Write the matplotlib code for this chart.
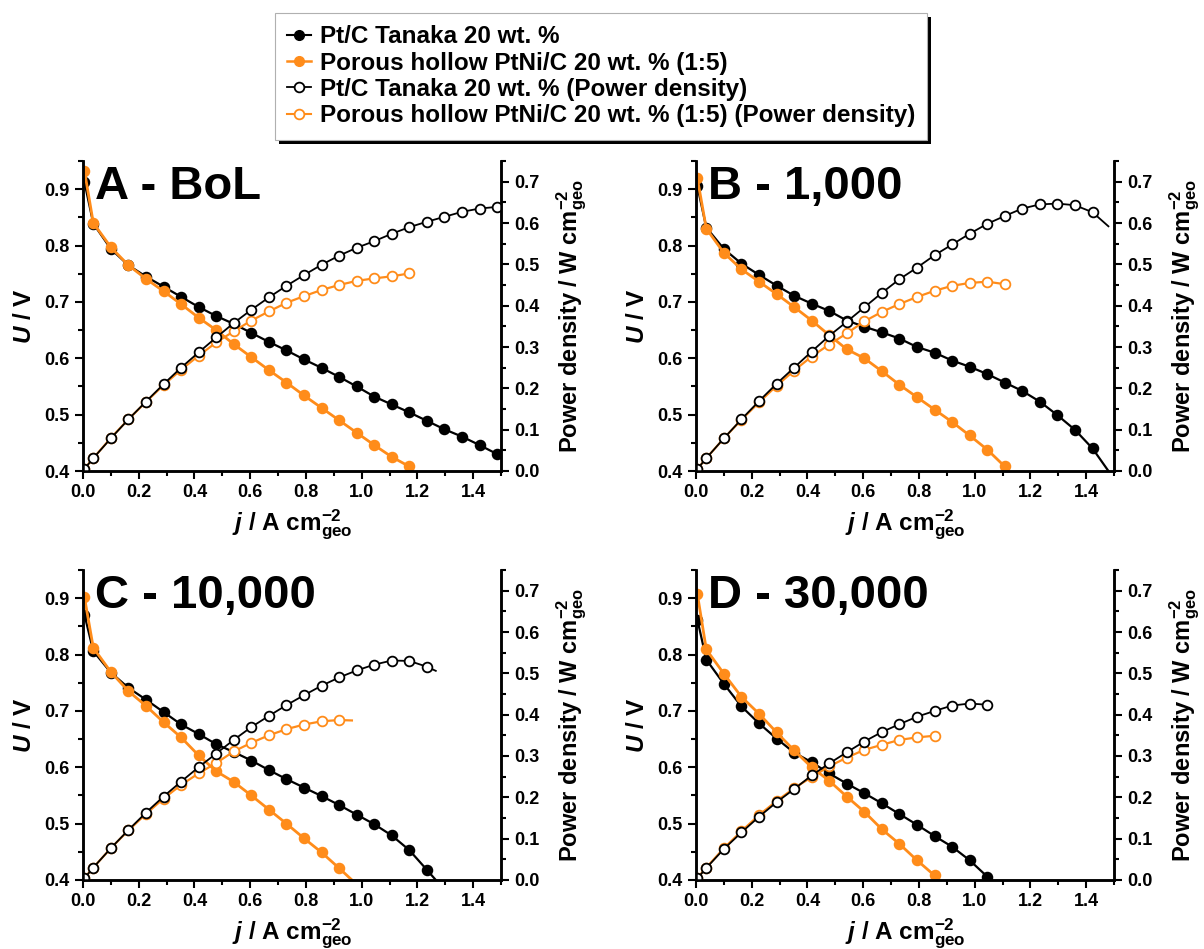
import matplotlib
matplotlib.use('Agg')
from matplotlib import pyplot as plt
from matplotlib.lines import Line2D
from matplotlib.patches import Rectangle
from matplotlib.ticker import MultipleLocator

plt.rcParams['font.family'] = ['Liberation Sans', 'DejaVu Sans']
plt.rcParams['font.weight'] = 'bold'
plt.rcParams['axes.labelweight'] = 'bold'
plt.rcParams['mathtext.fontset'] = 'custom'
plt.rcParams['mathtext.rm'] = 'Liberation Sans:bold'
plt.rcParams['mathtext.bf'] = 'Liberation Sans:bold'
plt.rcParams['mathtext.it'] = 'Liberation Sans:bold:italic'

ORANGE = '#FF8C1A'

### - Data

# current density of the measured points, A cm-2 (same grid for every curve)
j_grid = [0.005, 0.037, 0.100, 0.163, 0.226, 0.289, 0.352, 0.415, 0.478, 0.541,
          0.604, 0.667, 0.730, 0.793, 0.856, 0.919, 0.982, 1.045, 1.108, 1.171,
          1.234, 1.297, 1.360, 1.423, 1.486]

# A - BoL
A_pt_U = [0.913, 0.839, 0.794, 0.765, 0.745, 0.727, 0.709, 0.691, 0.675, 0.661,
          0.645, 0.629, 0.614, 0.598, 0.583, 0.567, 0.550, 0.532, 0.518, 0.504,
          0.489, 0.474, 0.461, 0.446, 0.430]
A_pt_P = [0.005, 0.031, 0.079, 0.125, 0.168, 0.210, 0.250, 0.287, 0.323, 0.358,
          0.390, 0.420, 0.448, 0.474, 0.499, 0.521, 0.540, 0.556, 0.574, 0.590,
          0.603, 0.615, 0.627, 0.635, 0.639]
A_ni_U = [0.933, 0.840, 0.797, 0.765, 0.741, 0.719, 0.696, 0.672, 0.650, 0.625,
          0.602, 0.579, 0.557, 0.534, 0.512, 0.490, 0.468, 0.446, 0.425, 0.408]
A_ni_P = [0.005, 0.031, 0.080, 0.125, 0.167, 0.208, 0.245, 0.279, 0.311, 0.338,
          0.364, 0.386, 0.407, 0.423, 0.438, 0.450, 0.460, 0.466, 0.471, 0.478]

# B - 1,000 cycles
B_pt_U = [0.905, 0.832, 0.794, 0.768, 0.748, 0.729, 0.711, 0.697, 0.684, 0.667,
          0.656, 0.646, 0.635, 0.620, 0.610, 0.596, 0.585, 0.572, 0.557, 0.542,
          0.523, 0.499, 0.473, 0.440]
B_pt_P = [0.005, 0.031, 0.079, 0.125, 0.169, 0.211, 0.250, 0.289, 0.327, 0.361,
          0.396, 0.431, 0.464, 0.492, 0.522, 0.548, 0.574, 0.598, 0.617, 0.635,
          0.645, 0.647, 0.643, 0.626]
B_pt_tail = (1.480, 0.400, 0.592)   # j, U, P where the line ends past the last marker
B_ni_U = [0.919, 0.830, 0.787, 0.758, 0.736, 0.714, 0.691, 0.667, 0.641, 0.616,
          0.600, 0.577, 0.553, 0.531, 0.509, 0.487, 0.463, 0.438, 0.408]
B_ni_P = [0.005, 0.031, 0.079, 0.124, 0.166, 0.206, 0.243, 0.277, 0.306, 0.333,
          0.362, 0.385, 0.404, 0.421, 0.436, 0.448, 0.455, 0.458, 0.452]

# C - 10,000 cycles
C_pt_U = [0.871, 0.806, 0.768, 0.741, 0.720, 0.698, 0.676, 0.659, 0.641, 0.627,
          0.612, 0.595, 0.579, 0.564, 0.549, 0.533, 0.516, 0.499, 0.479, 0.453,
          0.418]
C_pt_P = [0.004, 0.030, 0.077, 0.121, 0.163, 0.202, 0.238, 0.273, 0.306, 0.339,
          0.370, 0.397, 0.423, 0.447, 0.470, 0.490, 0.507, 0.521, 0.531, 0.530,
          0.516]
C_pt_tail = (1.266, 0.400, 0.506)
C_ni_U = [0.902, 0.812, 0.769, 0.735, 0.709, 0.680, 0.653, 0.621, 0.593, 0.574,
          0.550, 0.525, 0.500, 0.474, 0.449, 0.421]
C_ni_P = [0.005, 0.030, 0.077, 0.120, 0.160, 0.197, 0.230, 0.258, 0.283, 0.311,
          0.332, 0.350, 0.365, 0.376, 0.384, 0.387]
C_ni_tail = (0.965, 0.400, 0.386)

# D - 30,000 cycles
D_pt_U = [0.862, 0.791, 0.748, 0.708, 0.678, 0.651, 0.626, 0.609, 0.589, 0.571,
          0.554, 0.536, 0.517, 0.498, 0.478, 0.459, 0.435, 0.406]
D_pt_P = [0.004, 0.029, 0.075, 0.115, 0.153, 0.188, 0.220, 0.253, 0.282, 0.309,
          0.335, 0.358, 0.377, 0.395, 0.409, 0.422, 0.427, 0.424]
D_ni_U = [0.907, 0.809, 0.766, 0.725, 0.695, 0.662, 0.630, 0.600, 0.576, 0.548,
          0.521, 0.490, 0.464, 0.435, 0.408]
D_ni_P = [0.005, 0.030, 0.077, 0.118, 0.157, 0.191, 0.222, 0.249, 0.275, 0.296,
          0.315, 0.327, 0.339, 0.345, 0.349]

legend_labels = ['Pt/C Tanaka 20 wt. %',
                 'Porous hollow PtNi/C 20 wt. % (1:5)',
                 'Pt/C Tanaka 20 wt. % (Power density)',
                 'Porous hollow PtNi/C 20 wt. % (1:5) (Power density)']

### - Helper Functions

def plot_series(ax, yvals, colour, filled, tail=None, lw=1.6):
    """Line through the points, markers only on the measured points (tail = extra line end)."""
    n = len(yvals)
    xs = list(j_grid[:n])
    ys = list(yvals)
    if tail is not None:
        xs.append(tail[0])
        ys.append(tail[1])
    ax.plot(xs, ys, '-', color=colour, lw=lw, marker='o', ms=7,
            mfc=colour if filled else 'white', mec=colour, mew=1.3,
            markevery=list(range(n)))


def style_axes(ax, ax2):
    for a in (ax, ax2):
        a.spines['top'].set_visible(False)
        for s in ('left', 'right', 'bottom'):
            a.spines[s].set_linewidth(1.8)
        a.tick_params(which='major', direction='out', length=6, width=1.5, labelsize=13)
        a.tick_params(which='minor', direction='out', length=3.5, width=1.5)
    ax.set_xlim(0, 1.5)
    ax.set_ylim(0.4, 0.95)
    ax2.set_ylim(0.0, 0.75)
    ax.set_xticks([0.0, 0.2, 0.4, 0.6, 0.8, 1.0, 1.2, 1.4])
    ax.xaxis.set_minor_locator(MultipleLocator(0.1))
    ax.set_yticks([0.4, 0.5, 0.6, 0.7, 0.8, 0.9])
    ax.yaxis.set_minor_locator(MultipleLocator(0.05))
    ax2.set_yticks([0.0, 0.1, 0.2, 0.3, 0.4, 0.5, 0.6, 0.7])
    ax2.yaxis.set_minor_locator(MultipleLocator(0.05))
    ax.xaxis.set_major_formatter(plt.FormatStrFormatter('%.1f'))
    ax.yaxis.set_major_formatter(plt.FormatStrFormatter('%.1f'))
    ax2.yaxis.set_major_formatter(plt.FormatStrFormatter('%.1f'))
    ax.set_xlabel(r'$\mathit{j}$ / A $\mathrm{cm}^{-2}_{\mathrm{geo}}$', fontsize=17.5, labelpad=5)
    ax.set_ylabel(r'$\mathit{U}$ / V', fontsize=17.5, labelpad=6)
    ax2.set_ylabel(r'Power density / W $\mathrm{cm}^{-2}_{\mathrm{geo}}$', fontsize=17, labelpad=11)


def draw_panel(rect, title, pt_U, pt_P, ni_U, ni_P, pt_tail=None, ni_tail=None):
    ax = fig.add_axes(rect)
    ax2 = ax.twinx()
    plot_series(ax, pt_U, 'black', True, None if pt_tail is None else (pt_tail[0], pt_tail[1]), lw=1.6)
    plot_series(ax, ni_U, ORANGE, True, None if ni_tail is None else (ni_tail[0], ni_tail[1]), lw=2.0)
    plot_series(ax2, ni_P, ORANGE, False, None if ni_tail is None else (ni_tail[0], ni_tail[2]), lw=1.6)
    plot_series(ax2, pt_P, 'black', False, None if pt_tail is None else (pt_tail[0], pt_tail[2]), lw=1.3)
    style_axes(ax, ax2)
    ax2.text(0.029, 0.877, title, transform=ax.transAxes, fontsize=34,
             fontweight='bold', va='baseline', ha='left', zorder=10)
    return ax


### - Figure

W, H = 1204, 949
fig = plt.figure(figsize=(W / 100, H / 100), dpi=100)

pw, ph = 418 / W, 310 / H
draw_panel([83 / W, 1 - 471 / H, pw, ph], 'A - BoL', A_pt_U, A_pt_P, A_ni_U, A_ni_P)
draw_panel([696 / W, 1 - 471 / H, pw, ph], 'B - 1,000', B_pt_U, B_pt_P, B_ni_U, B_ni_P,
           pt_tail=B_pt_tail)
draw_panel([83 / W, 1 - 880 / H, pw, ph], 'C - 10,000', C_pt_U, C_pt_P, C_ni_U, C_ni_P,
           pt_tail=C_pt_tail, ni_tail=C_ni_tail)
draw_panel([696 / W, 1 - 880 / H, pw, ph], 'D - 30,000', D_pt_U, D_pt_P, D_ni_U, D_ni_P)

handles = [
    Line2D([], [], color='black', lw=1.5, marker='o', ms=7, mfc='black', mec='black'),
    Line2D([], [], color=ORANGE, lw=1.8, marker='o', ms=7, mfc=ORANGE, mec=ORANGE),
    Line2D([], [], color='black', lw=1.3, marker='o', ms=7, mfc='white', mec='black', mew=1.3),
    Line2D([], [], color=ORANGE, lw=1.5, marker='o', ms=7, mfc='white', mec=ORANGE, mew=1.3),
]
leg = fig.legend(handles, legend_labels, loc='upper left',
                 bbox_to_anchor=(275 / W, 1 - 13 / H), borderaxespad=0, fontsize=17.5,
                 numpoints=1, frameon=True, fancybox=False, framealpha=1, edgecolor='#b0b0b0',
                 handlelength=1.0, handletextpad=0.35, labelspacing=0.14, borderpad=0.5)
leg.get_frame().set_linewidth(0.8)

# black drop shadow on the right and bottom of the legend box
fig.canvas.draw()
bb = leg.get_window_extent().transformed(fig.transFigure.inverted())
shadow = Rectangle((bb.x0 + 4 / W, bb.y0 - 4 / H), bb.width, bb.height,
                   transform=fig.transFigure, facecolor='black', edgecolor='none',
                   zorder=leg.get_zorder() - 0.5)
fig.add_artist(shadow)

fig.savefig('out.png', dpi=100)
